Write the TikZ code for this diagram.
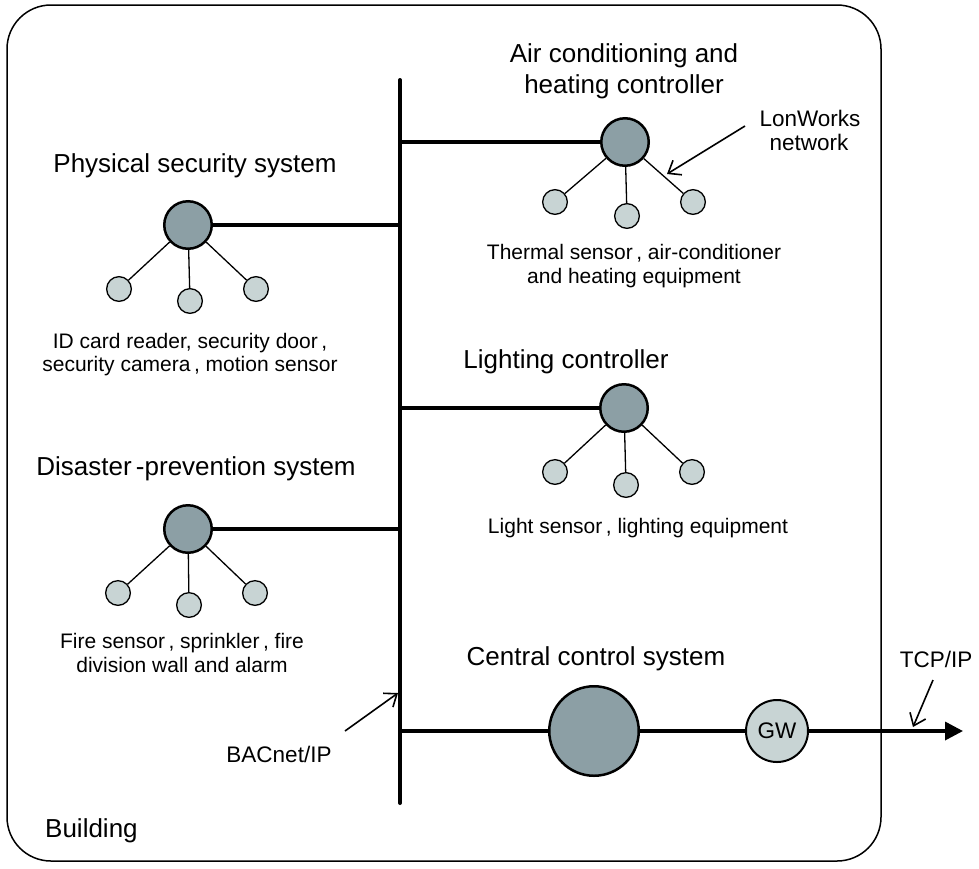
\documentclass[tikz,border=0pt]{standalone}
\usepackage{fontspec}
\setmainfont{Liberation Sans}
\usetikzlibrary{arrows.meta}
\definecolor{ctrlfill}{RGB}{140,159,165}
\definecolor{devfill}{RGB}{200,212,212}
\tikzset{
  ctrl/.style={circle,draw,line width=2.5pt,fill=ctrlfill,minimum size=47.5pt,inner sep=0pt},
  bigctrl/.style={ctrl,minimum size=89.5pt},
  dev/.style={circle,draw,line width=1.3pt,fill=devfill,minimum size=24.7pt,inner sep=0pt},
  gwnode/.style={circle,draw,line width=2pt,fill=devfill,minimum size=62pt,inner sep=0pt,
    font=\fontsize{22.5}{26}\selectfont},
  bus/.style={line width=4pt,line cap=round},
  branch/.style={line width=3.5pt},
  link/.style={line width=1.3pt},
  callout/.style={line width=1.6pt,-{Straight Barb[length=11pt,width=17pt,line width=1.6pt]}},
  title/.style={font=\fontsize{26}{30}\selectfont,anchor=base,inner sep=0pt},
  desc/.style={font=\fontsize{21}{24}\selectfont,anchor=base,inner sep=0pt},
  tag/.style={font=\fontsize{22.5}{26}\selectfont,anchor=base,inner sep=0pt},
}
\begin{document}
\begin{tikzpicture}[x=1pt,y=-1pt]
\useasboundingbox (0,0) rectangle (979,868);

% building outline
\draw[line width=1.5pt,rounded corners=44pt] (7,5) rectangle (881,861);
\node[title,anchor=base west] (building) at (45,837) {Building};

% BACnet/IP backbone
\coordinate (bustop) at (400,80);
\coordinate (busbot) at (400,803);
\draw[bus] (bustop) -- (busbot);
\coordinate (jP) at (400,225);
\coordinate (jA) at (400,142);
\coordinate (jL) at (400,408);
\coordinate (jD) at (400,529);
\coordinate (jC) at (400,731);

% physical security system
\node[title] (physT) at (195,172) {Physical security system};
\node[ctrl] (phys) at (188,225) {};
\node[dev] (phys1) at (119,289) {};
\node[dev] (phys2) at (190,301) {};
\node[dev] (phys3) at (256,289) {};
\draw[branch] (phys) -- (jP);
\foreach \d in {phys1,phys2,phys3} \draw[link] (phys) -- (\d);
\node[desc] (physD1) at (190,348) {ID card reader, security door\,,};
\node[desc] (physD2) at (190,371) {security camera\,, motion sensor};

% air conditioning and heating controller
\node[title] (acT1) at (624,62) {Air conditioning and};
\node[title] (acT2) at (624,93) {heating controller};
\node[ctrl] (ac) at (625,142) {};
\node[dev] (ac1) at (555,202) {};
\node[dev] (ac2) at (627,216) {};
\node[dev] (ac3) at (693,202) {};
\draw[branch] (jA) -- (ac);
\foreach \d in {ac1,ac2,ac3} \draw[link] (ac) -- (\d);
\node[desc] (acD1) at (634,259) {Thermal sensor\,, air-conditioner};
\node[desc] (acD2) at (634,283) {and heating equipment};
\node[tag] (lon1) at (810,126) {LonWorks};
\node[tag] (lon2) at (809,150) {network};
\coordinate (lonFrom) at (745,126);
\coordinate (lonTo) at (667,174);
\draw[callout] (lonFrom) -- (lonTo);

% lighting controller
\node[title] (litT) at (566,368) {Lighting controller};
\node[ctrl] (lit) at (624,408) {};
\node[dev] (lit1) at (555,472) {};
\node[dev] (lit2) at (626,485) {};
\node[dev] (lit3) at (692,472) {};
\draw[branch] (jL) -- (lit);
\foreach \d in {lit1,lit2,lit3} \draw[link] (lit) -- (\d);
\node[desc] (litD) at (638,533) {Light sensor\,, lighting equipment};

% disaster-prevention system
\node[title] (disT) at (196,475) {Disaster\,-prevention system};
\node[ctrl] (dis) at (188,529) {};
\node[dev] (dis1) at (118,593) {};
\node[dev] (dis2) at (189,605) {};
\node[dev] (dis3) at (255,593) {};
\draw[branch] (dis) -- (jD);
\foreach \d in {dis1,dis2,dis3} \draw[link] (dis) -- (\d);
\node[desc] (disD1) at (182,648) {Fire sensor\,, sprinkler\,, fire};
\node[desc] (disD2) at (182,672) {division wall and alarm};

% central control system and gateway
\node[title] (cenT) at (596,665) {Central control system};
\node[bigctrl] (cen) at (594,731) {};
\node[gwnode] (gw) at (777,731) {GW};
\coordinate (out) at (963,731);
\draw[branch] (jC) -- (cen);
\draw[branch] (cen) -- (gw);
\draw[branch,-{Triangle[length=18pt,width=18pt]}] (gw) -- (out);

% protocol labels
\node[tag] (tcp) at (936,667) {TCP/IP};
\coordinate (tcpFrom) at (933,680);
\coordinate (tcpTo) at (913,727);
\draw[callout] (tcpFrom) -- (tcpTo);
\node[tag] (bac) at (279,762) {BACnet/IP};
\coordinate (bacFrom) at (345,731);
\coordinate (bacTo) at (398,693);
\draw[callout] (bacFrom) -- (bacTo);
\end{tikzpicture}
\end{document}
